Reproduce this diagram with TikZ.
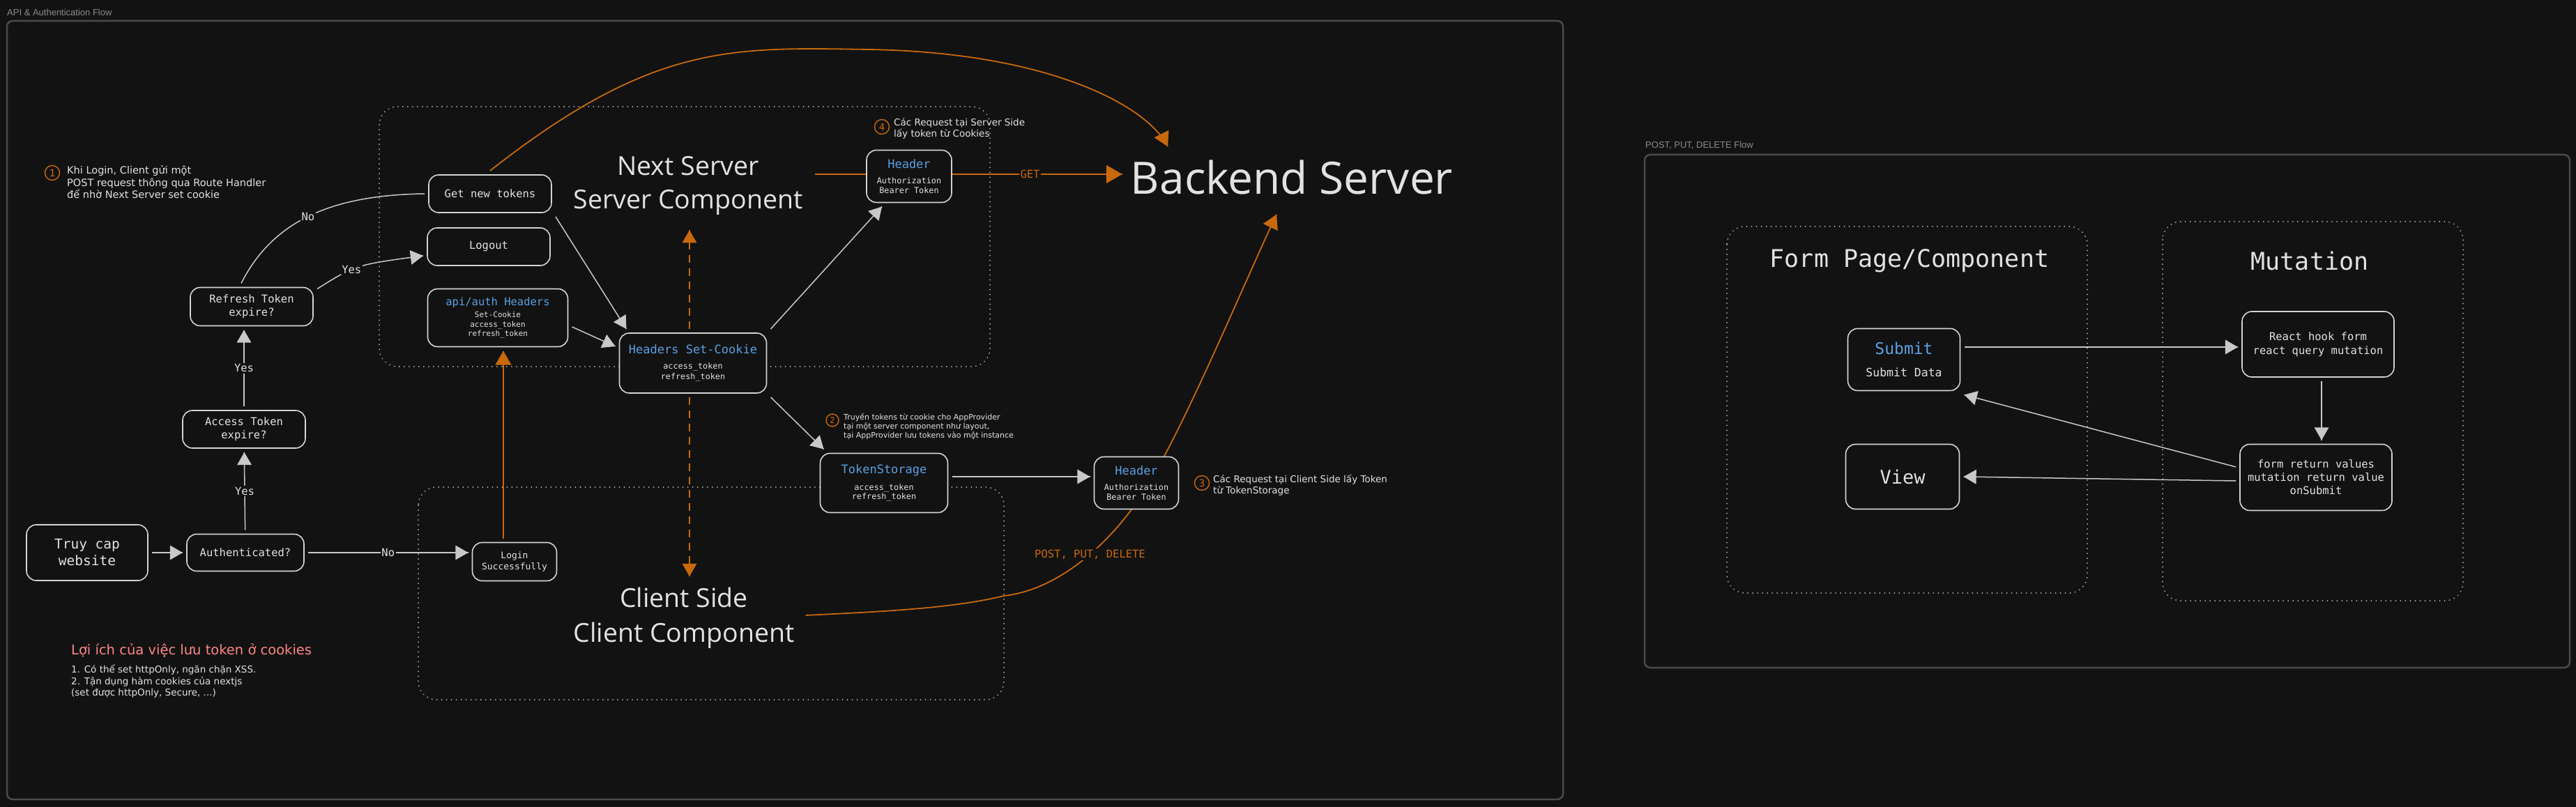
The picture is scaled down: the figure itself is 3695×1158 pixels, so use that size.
\documentclass[tikz,border=0pt]{standalone}
\usepackage{fontspec}
\usepackage{tikz}
\usetikzlibrary{arrows}
\usetikzlibrary{decorations.markings}
\usetikzlibrary{positioning}
\setmainfont{Liberation Sans}
\newfontfamily\mono{DejaVu Sans Mono}
\newfontfamily\viet{DejaVu Sans}
\newfontfamily\hand{Open Sans}
\newcommand{\fsz}[2]{\fontsize{#1}{#2}\selectfont}
\definecolor{bgc}{HTML}{121212}
\definecolor{framec}{HTML}{4A4A4A}
\definecolor{titlec}{HTML}{8C8C8C}
\definecolor{edgec}{HTML}{D4D4D4}
\definecolor{ink}{HTML}{E2E2E2}
\definecolor{linkc}{HTML}{C8C8C8}
\definecolor{accent}{HTML}{C8690C}
\definecolor{codeblue}{HTML}{5AA0E2}
\definecolor{salmon}{HTML}{FF8585}
\definecolor{dotc}{HTML}{B8B8B8}
\pgfdeclarelayer{canvas}
\pgfdeclarelayer{behind}
\pgfsetlayers{canvas,behind,main}
\tikzset{->/.style = {decoration={markings,
                                  mark=at position 1 with {\pgfsetdash{}{0pt}\arrow[scale=2]{triangle 60}}},
                      postaction={decorate}}}
\tikzset{box/.style = {draw = edgec, line width = 1.6pt, rounded corners = 14pt, fill = bgc, text = ink,
                       align = center, inner sep = 0pt, outer sep = 6pt, font = \mono}}
\tikzset{dims/.style 2 args = {minimum width = #1pt, minimum height = #2pt}}
\tikzset{group/.style = {draw = dotc, line width = 2pt, line cap = round, dash pattern = on 0.01pt off 7pt,
                         rounded corners = 26pt}}
\tikzset{frame/.style = {draw = framec, line width = 2.5pt, rounded corners = 8pt}}
\tikzset{frametitle/.style = {text = titlec, inner sep = 0pt, anchor = west, font = \fsz{13}{15}}}
\tikzset{link/.style = {color = linkc, line width = 1.5pt}}
\tikzset{hot/.style = {color = accent, line width = 1.8pt}}
\tikzset{lbl/.style = {fill = bgc, text = ink, inner sep = 1.5pt, font = \mono\fsz{15.5}{18}}}
\tikzset{num/.style = {circle, draw = accent, text = accent, line width = 1.4pt, inner sep = 0pt,
                       minimum size = 21pt, font = \mono\fsz{14}{16}}}
\tikzset{note/.style = {text = ink, align = left, inner sep = 0pt, anchor = west, font = \viet}}
\tikzset{hand/.style = {text = ink, align = center, font = \hand}}
\begin{document}
\begin{tikzpicture}[x = 1pt, y = -1pt]
    \begin{pgfonlayer}{canvas}
      \fill [bgc] (0, 0) rectangle (3695, 1158);
    \end{pgfonlayer}
    \useasboundingbox (0, 0) rectangle (3695, 1158);
    % frames and groups
    \draw [frame] (10, 30) rectangle (2242, 1147);
    \node [frametitle] (authtitle) at (10, 18) {API \& Authentication Flow};
    \draw [frame] (2359, 222) rectangle (3686, 958);
    \node [frametitle] (posttitle) at (2360, 209) {POST, PUT, DELETE Flow};
    \draw [group] (544, 153) rectangle (1420, 526);
    \draw [group] (600, 699) rectangle (1440, 1004);
    \draw [group] (2477, 325) rectangle (2994, 851);
    \draw [group] (3102, 318) rectangle (3533, 862);
    % big texts
    \node [hand, inner sep = 22pt, font = \hand\fsz{37.5}{48}] (nexttxt) at (987, 266) {Next Server\\Server Component};
    \node [hand, inner sep = 16pt, font = \hand\fsz{37.5}{50}] (clienttxt) at (981, 887) {Client Side\\Client Component};
    \node [hand, inner sep = 12pt, font = \hand\fsz{64}{70}] (backend) at (1853, 255) {Backend Server};
    \node [text = ink, font = \mono\fsz{35}{40}] (formtxt) at (2739, 374) {Form Page/Component};
    \node [text = ink, font = \mono\fsz{35}{40}] (mutationtxt) at (3313, 374) {Mutation};
    % left chain
    \node [box, dims = {174}{80}, font = \mono\fsz{19.5}{24}] (truy) at (125, 793) {Truy cap\\website};
    \node [box, dims = {168}{53}, font = \mono\fsz{15.5}{19}] (auth) at (352, 793) {Authenticated?};
    \node [box, dims = {176}{54}, font = \mono\fsz{15.5}{19}] (access) at (350, 616) {Access Token\\expire?};
    \node [box, dims = {176}{55}, font = \mono\fsz{15.5}{19}] (refresh) at (361, 440) {Refresh Token\\expire?};
    \node [box, dims = {176}{54}, font = \mono\fsz{15.5}{19}] (getnew) at (703, 278) {Get new tokens};
    \node [box, dims = {176}{54}, font = \mono\fsz{15.5}{19}] (logout) at (701, 354) {Logout};
    \node [box, dims = {201}{83}, font = \mono\fsz{11}{13.5}] (apiauth) at (714, 456)
      {\textcolor{codeblue}{\fsz{15.5}{18}api/auth Headers}\\[3.5pt]Set-Cookie\\access\_token\\refresh\_token};
    \node [box, dims = {211}{86}, font = \mono\fsz{11.8}{15}] (setcookie) at (994, 521)
      {\textcolor{codeblue}{\fsz{17}{20}Headers Set-Cookie}\\[7pt]access\_token\\refresh\_token};
    \node [box, dims = {122}{75}, font = \mono\fsz{11.8}{14}] (hdrserver) at (1304, 253)
      {\textcolor{codeblue}{\fsz{17}{20}Header}\\[8pt]Authorization\\Bearer Token};
    \node [box, dims = {183}{85}, font = \mono\fsz{11.8}{13.5}] (tokenstore) at (1268, 693)
      {\textcolor{codeblue}{\fsz{17}{20}TokenStorage}\\[10pt]access\_token\\refresh\_token};
    \node [box, dims = {121}{75}, font = \mono\fsz{11.8}{14}] (hdrclient) at (1630, 693)
      {\textcolor{codeblue}{\fsz{17}{20}Header}\\[8pt]Authorization\\Bearer Token};
    \node [box, dims = {121}{55}, font = \mono\fsz{13}{16}] (login) at (738, 806) {Login\\Successfully};
    % right flow
    \node [box, dims = {161}{89}, font = \mono\fsz{16.5}{20}] (submit) at (2731, 516)
      {\textcolor{codeblue}{\fsz{23}{26}Submit}\\[12pt]Submit Data};
    \node [box, dims = {163}{93}, font = \mono\fsz{27}{30}] (view) at (2729, 684) {View};
    \node [box, dims = {218}{94}, font = \mono\fsz{15.5}{20}] (react) at (3325, 494) {React hook form\\react query mutation};
    \node [box, dims = {218}{95}, font = \mono\fsz{15.5}{19}] (formret) at (3322, 685)
      {form return values\\mutation return value\\onSubmit};
    % notes
    \node [num] (num1) at (75, 248) {1};
    \node [note, font = \viet\fsz{14.5}{17.5}] (note1) at (96, 261.5)
      {Khi Login, Client gửi một\\POST request thông qua Route Handler\\để nhờ Next Server set cookie};
    \node [num] (num4) at (1265, 182) {4};
    \node [note, font = \viet\fsz{13.5}{16}] (note4) at (1282, 185) {Các Request tại Server Side\\lấy token từ Cookies};
    \node [num, minimum size = 18pt, font = \mono\fsz{12}{14}] (num2) at (1194, 603) {2};
    \node [note, font = \viet\fsz{11}{13}] (note2) at (1210, 612)
      {Truyền tokens từ cookie cho AppProvider\\tại một server component như layout,\\tại AppProvider lưu tokens vào một instance};
    \node [num] (num3) at (1724, 693) {3};
    \node [note, font = \viet\fsz{13.5}{16}] (note3) at (1740, 696) {Các Request tại Client Side lấy Token\\từ TokenStorage};
    \node [note, text = salmon, font = \viet\fsz{19.5}{22}] (benefit) at (102, 933) {Lợi ích của việc lưu token ở cookies};
    \node [note, font = \viet\fsz{13.5}{16.5}] (benefitlist) at (102, 978)
      {1. Có thể set httpOnly, ngăn chặn XSS.\\2. Tận dụng hàm cookies của nextjs\\(set được httpOnly, Secure, ...)};
    % connectors
    \draw [link, ->] (truy) -- (auth);
    \draw [link, ->] (auth.east) -- node [lbl] (lblno1) {No} (auth.east -| login.west);
    \draw [link, ->] (auth) -- node [lbl] (lblyes1) {Yes} (access);
    \draw [link, ->] (access.north) -- node [lbl] (lblyes2) {Yes} (access.north |- refresh.south);
    \draw [link, ->] ([yshift = -8pt]refresh.north east) .. controls (510, 380) ..
      node [lbl, pos = 0.4] (lblyes3) {Yes} ([yshift = -13pt]logout.west);
    \draw [link, ->] ([xshift = -15pt]refresh.north) .. controls (390, 320) and (470, 280) ..
      node [lbl, pos = 0.5] (lblno2) {No} (getnew.west);
    \draw [link, ->] (getnew.south east) -- ([xshift = 16pt]setcookie.north west);
    \draw [link, ->] ([yshift = -13pt]apiauth.east) -- ([yshift = 24pt]setcookie.west);
    \draw [link, ->] (setcookie.north east) -- ([xshift = 28pt]hdrserver.south west);
    \draw [link, ->] (setcookie.south east) -- ([xshift = 11pt]tokenstore.north west);
    \draw [link, ->] ([yshift = 9pt]tokenstore.east) -- ([yshift = 9pt]hdrclient.west);
    \draw [hot, line width = 1.5pt, dash pattern = on 11pt off 8pt, ->]
      ([xshift = -5pt]setcookie.north) -- ([xshift = -5pt]setcookie.north |- nexttxt.south);
    \draw [hot, line width = 1.5pt, dash pattern = on 11pt off 8pt, ->]
      ([xshift = -5pt]setcookie.south) -- ([xshift = -5pt]setcookie.south |- clienttxt.north);
    \draw [hot, ->] ([xshift = -16pt]login.north) -- ([xshift = -16pt]login.north |- apiauth.south);
    \draw [hot, ->] (getnew.north) .. controls (937, 61) and (1050, 68) .. (1246, 71)
      .. controls (1500, 75) and (1645, 150) .. ([xshift = -178pt, yshift = 8pt]backend.north);
    \begin{pgfonlayer}{behind}
      \coordinate (getfrom) at (1169, 250);
      \draw [hot, line width = 2.2pt, ->] (getfrom) --
        node [lbl, pos = 0.7, text = accent] (lblget) {GET} (getfrom -| backend.west);
      \draw [hot, ->] ([yshift = 4pt]clienttxt.east) .. controls (1253, 878) and (1362, 874) .. (1440, 855)
        .. controls (1530, 845) and (1610, 760) .. node [lbl, pos = 0.5, text = accent] (lblpost) {POST, PUT, DELETE}
        ([xshift = 18pt]hdrclient.center)
        .. controls (1701, 608) and (1789, 396) .. ([xshift = -22pt, yshift = -16pt]backend.south);
    \end{pgfonlayer}
    \draw [link, ->] ([yshift = 18pt]submit.east) -- ([yshift = -4pt]react.west);
    \draw [link, ->] ([xshift = 5pt]react.south) -- ([xshift = 8pt]formret.north);
    \draw [link, ->] ([yshift = 15pt]formret.west) -- (submit.south east);
    \draw [link, ->] ([yshift = -5pt]formret.west) -- (view.east);
  \end{tikzpicture}
\end{document}
